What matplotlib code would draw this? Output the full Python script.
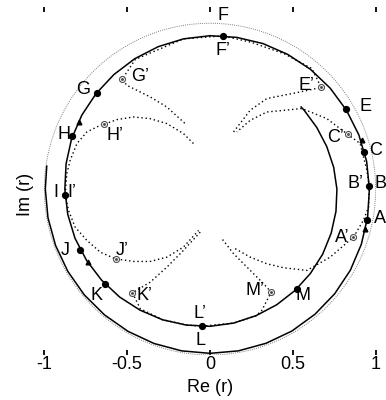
import numpy as np
import matplotlib
matplotlib.use("Agg")
import matplotlib.pyplot as plt

plt.rcParams['font.family'] = ['Liberation Sans', 'DejaVu Sans']
plt.rcParams['axes.unicode_minus'] = False

# locus of r: phase (deg, unwrapped) and magnitude
spiral_deg = [172, 180, 190, 200, 210, 220, 230, 240, 250, 260, 270, 280, 290,
              300, 310, 320, 330, 340, 350, 360, 370, 380, 390, 400, 410, 420,
              430, 440, 450, 460, 470, 480, 490, 500, 510, 520, 530, 540, 550,
              560, 570, 580, 590, 600, 610, 620, 630, 640, 650, 660, 670, 680,
              690, 700, 710, 720, 730, 740, 750, 760, 762]
spiral_mag = [0.995, 0.994, 0.993, 0.992, 0.991, 0.991, 0.990, 0.990, 0.990,
              0.990, 0.990, 0.990, 0.989, 0.988, 0.985, 0.982, 0.978, 0.972,
              0.966, 0.962, 0.960, 0.956, 0.951, 0.947, 0.943, 0.938, 0.934,
              0.929, 0.925, 0.920, 0.914, 0.908, 0.902, 0.897, 0.893, 0.889,
              0.882, 0.876, 0.872, 0.867, 0.860, 0.854, 0.849, 0.843, 0.838,
              0.832, 0.827, 0.820, 0.812, 0.805, 0.798, 0.791, 0.785, 0.778,
              0.772, 0.766, 0.758, 0.750, 0.744, 0.741, 0.740]

# marked points on the locus
pt_names = ['A', 'B', 'C', 'E', 'F', 'G', 'H', 'I', 'J', 'K', 'L', 'M']
pt_re = [0.947, 0.961, 0.932, 0.820, 0.078, -0.683, -0.830, -0.874, -0.782, -0.632, -0.049, 0.524]
pt_im = [-0.188, 0.019, 0.224, 0.482, 0.924, 0.582, 0.319, -0.033, -0.369, -0.570, -0.826, -0.600]

# primed points (B', F', I', L' fall on the locus points)
pr_names = ["A'", "C'", "E'", "G'", "H'", "J'", "K'", "M'"]
pr_re = [0.866, 0.830, 0.671, -0.530, -0.639, -0.568, -0.468, 0.369]
pr_im = [-0.289, 0.331, 0.613, 0.663, 0.395, -0.424, -0.625, -0.621]

# frequency markers
tri_re = [-0.792, -0.734, 0.937, 0.916]
tri_im = [0.405, -0.439, -0.238, 0.295]

# primed locus, drawn as open arcs
arc_re = [
    [0.961, 0.947, 0.906, 0.830, 0.705, 0.555, 0.343, 0.243, 0.162],
    [0.142, 0.243, 0.343, 0.544, 0.671, 0.615, 0.450, 0.250, 0.078],
    [0.078, -0.160, -0.451, -0.530, -0.502, -0.361, -0.260, -0.150],
    [-0.100, -0.160, -0.260, -0.361, -0.462, -0.562, -0.639, -0.662, -0.743,
     -0.803, -0.844, -0.864, -0.874],
    [-0.874, -0.854, -0.814, -0.743, -0.662, -0.572, -0.462, -0.361, -0.260,
     -0.160, -0.069],
    [-0.059, -0.160, -0.260, -0.361, -0.468, -0.421, -0.287, -0.144, -0.049],
    [-0.049, 0.142, 0.278, 0.313, 0.369, 0.323, 0.243, 0.142, 0.072],
    [0.152, 0.243, 0.343, 0.444, 0.585, 0.725, 0.866, 0.926, 0.957, 0.961],
]
arc_im = [
    [0.017, 0.113, 0.275, 0.331, 0.425, 0.486, 0.465, 0.415, 0.345],
    [0.345, 0.476, 0.546, 0.586, 0.613, 0.727, 0.815, 0.885, 0.924],
    [0.924, 0.906, 0.782, 0.663, 0.626, 0.556, 0.495, 0.395],
    [0.275, 0.335, 0.395, 0.425, 0.435, 0.419, 0.391, 0.385, 0.345,
     0.275, 0.174, 0.094, -0.033],
    [-0.033, -0.128, -0.229, -0.309, -0.380, -0.420, -0.436, -0.436, -0.410,
     -0.349, -0.249],
    [-0.259, -0.369, -0.470, -0.561, -0.625, -0.721, -0.787, -0.819, -0.826],
    [-0.826, -0.808, -0.763, -0.731, -0.621, -0.570, -0.490, -0.389, -0.299],
    [-0.359, -0.410, -0.450, -0.474, -0.490, -0.410, -0.289, -0.188, -0.108, 0.017],
]

# text placement for the point names
label_pos = {
    'A': (1.027, -0.178), "A'": (0.796, -0.289),
    'B': (1.027, 0.033), "B'": (0.876, 0.033),
    'C': (0.997, 0.234), "C'": (0.756, 0.311),
    'E': (0.941, 0.500), "E'": (0.585, 0.626),
    'F': (0.078, 1.049), "F'": (0.078, 0.838),
    'G': (-0.763, 0.600), "G'": (-0.425, 0.677),
    'H': (-0.880, 0.331), "H'": (-0.572, 0.325),
    'I': (-0.928, -0.018), "I'": (-0.833, -0.018),
    'J': (-0.874, -0.369), "J'": (-0.532, -0.369),
    'K': (-0.683, -0.641), "K'": (-0.397, -0.641),
    'L': (-0.059, -0.913), "L'": (-0.059, -0.751),
    'M': (0.564, -0.641), "M'": (0.273, -0.611),
}

fig = plt.figure(figsize=(3.86, 4.0), dpi=100)
ax = fig.add_axes([0.1148, 0.1125, 0.8585, 0.8708])

# unit circle
t = np.linspace(0, 2 * np.pi, 400)
ax.plot(np.cos(t), np.sin(t), color='0.5', lw=0.7, ls=(0, (1, 1.2)))

ph = np.radians(spiral_deg)
mag = np.array(spiral_mag)
ax.plot(mag * np.cos(ph), mag * np.sin(ph), color='k', lw=1.1)

for xs, ys in zip(arc_re, arc_im):
    ax.plot(xs, ys, color='k', lw=1.0, ls=(0, (1, 2.0)))

ax.plot(pt_re, pt_im, 'o', color='k', ms=4.2, zorder=5)
ax.plot(tri_re, tri_im, '^', color='k', ms=3.4, zorder=5)
ax.plot(pr_re, pr_im, 'o', mfc='white', mec='0.3', mew=0.8, ms=4.3, zorder=5)
ax.plot(pr_re, pr_im, 'o', color='0.3', ms=1.1, zorder=6)

for name, (lx, ly) in label_pos.items():
    ax.text(lx, ly, name.replace("'", "\u2019"), fontsize=13,
            ha='center', va='center')

ax.set_xlim(-1, 1)
ax.set_ylim(-1, 1.1)
ax.set_xticks([-1, -0.5, 0, 0.5, 1])
ax.set_xticklabels(['-1', '-0.5', '0', '0.5', '1'])
ax.set_yticks([])
ax.tick_params(axis='x', direction='in', top=True, bottom=True, length=3.6,
               width=1.3, pad=1.0, labelsize=13)
for s in ax.spines.values():
    s.set_visible(False)
ax.set_xlabel('Re (r)', fontsize=13, labelpad=4)
ax.set_ylabel('Im (r)', fontsize=13)
ax.yaxis.set_label_coords(-0.03, 0.46)

fig.savefig('out.png', dpi=100)
